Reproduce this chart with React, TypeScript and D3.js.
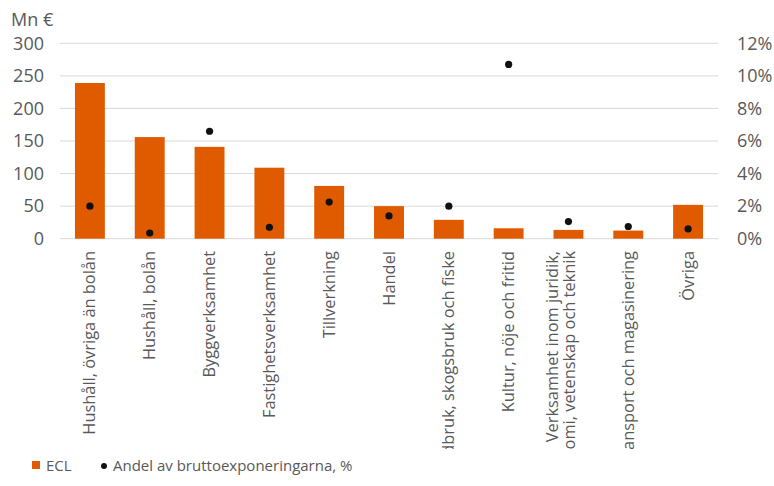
import React from "react";
import * as d3 from "d3";

const categories: string[][] = [
  ["Hushåll, övriga än bolån"],
  ["Hushåll, bolån"],
  ["Byggverksamhet"],
  ["Fastighetsverksamhet"],
  ["Tillverkning"],
  ["Handel"],
  ["Jordbruk, skogsbruk och fiske"],
  ["Kultur, nöje och fritid"],
  ["Verksamhet inom juridik,", "ekonomi, vetenskap och teknik"],
  ["Transport och magasinering"],
  ["Övriga"],
];
const eclValues = [239, 156, 141, 109, 81, 50, 29, 16, 13.5, 12.5, 52];
const sharePct = [2.0, 0.35, 6.6, 0.7, 2.25, 1.4, 2.0, 10.7, 1.05, 0.75, 0.6];
const leftTicks = [0, 50, 100, 150, 200, 250, 300];
const rightTicks = [0, 2, 4, 6, 8, 10, 12];

const W = 774;
const H = 486;
const ORANGE = "#E05A00";
const TEXT = "#595959";
const GRID = "#D9D9D9";
const FONT = "'Open Sans', sans-serif";

export default function App() {
  const plotL = 60, plotR = 718, plotT = 43.3, plotB = 238.7;
  const keys = categories.map((c) => c.join(" "));
  const x = d3.scaleBand<string>().domain(keys).range([plotL, plotR]).paddingInner(0.5).paddingOuter(0.25);
  const y = d3.scaleLinear().domain([0, 300]).range([plotB, plotT]);
  const y2 = d3.scaleLinear().domain([0, 12]).range([plotB, plotT]);
  const bw = x.bandwidth();

  return (
    <svg width={W} height={H} style={{ position: "absolute", left: 0, top: 0, background: "#fff" }} fontFamily={FONT}>
      <defs>
        <clipPath id="lblclip">
          <rect x={0} y={240} width={W} height={209} />
        </clipPath>
      </defs>
      <rect width={W} height={H} fill="#fff" />
      <text x={11} y={26} fontSize={18} fill={TEXT}>Mn €</text>
      {leftTicks.map((t) => (
        <g key={"g" + t}>
          <line x1={plotL} x2={plotR} y1={y(t)} y2={y(t)} stroke={GRID} strokeWidth={1} />
          <text x={44} y={y(t)} dy="0.35em" textAnchor="end" fontSize={18} fill={TEXT}>{t}</text>
        </g>
      ))}
      {rightTicks.map((t) => (
        <text key={"r" + t} x={737} y={y2(t)} dy="0.35em" textAnchor="start" fontSize={18} fill={TEXT}>{t}%</text>
      ))}
      {keys.map((k, i) => (
        <rect key={"b" + k} x={x(k)!} y={y(eclValues[i])} width={bw} height={plotB - y(eclValues[i])} fill={ORANGE} />
      ))}
      {keys.map((k, i) => (
        <circle key={"d" + k} cx={x(k)! + bw / 2} cy={y2(sharePct[i])} r={3.6} fill="#111" />
      ))}
      <g clipPath="url(#lblclip)">
        {categories.map((lines, i) => {
          const cx = x(keys[i])! + bw / 2;
          const n = lines.length;
          return lines.map((ln, j) => {
            const off = n > 1 ? -16 + j * 17 : 0;
            return (
              <text key={"l" + i + j} transform={`translate(${cx + off + 5.5},251) rotate(-90)`} textAnchor="end" fontSize={16.4} fill={TEXT}>
                {ln}
              </text>
            );
          });
        })}
      </g>
      <rect x={32} y={461} width={8} height={8} fill={ORANGE} />
      <text x={46} y={471} fontSize={15} fill={TEXT}>ECL</text>
      <circle cx={104} cy={466} r={3} fill="#111" />
      <text x={113} y={471} fontSize={15} fill={TEXT}>Andel av bruttoexponeringarna, %</text>
    </svg>
  );
}
